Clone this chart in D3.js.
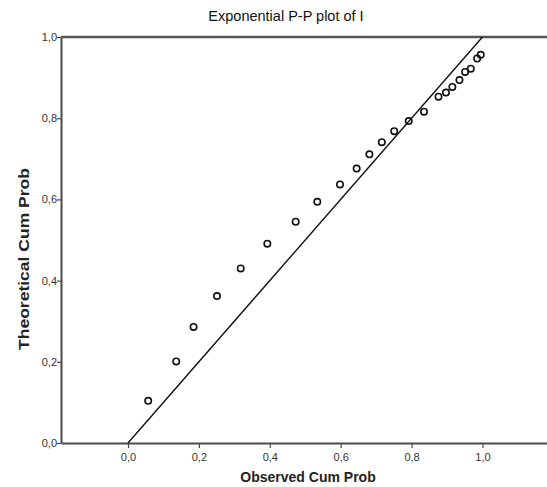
<!DOCTYPE html>
<html>
<head>
<meta charset="utf-8">
<script src="https://cdn.jsdelivr.net/npm/d3@7"></script>
<style>
  body { margin: 0; background: #fff; }
  svg { display: block; font-family: "Liberation Sans", Arial, sans-serif; }
</style>
</head>
<body>
<div id="pp-chart"></div>
<script>
var observed = [0.057, 0.136, 0.185, 0.251, 0.318, 0.393, 0.473, 0.534, 0.598, 0.645,
    0.681, 0.716, 0.751, 0.792, 0.835, 0.876, 0.897, 0.915, 0.935, 0.951, 0.967, 0.985, 0.995];
var theoretical = [0.104, 0.201, 0.286, 0.362, 0.430, 0.491, 0.545, 0.594, 0.637, 0.676,
    0.711, 0.741, 0.768, 0.793, 0.816, 0.853, 0.863, 0.877, 0.894, 0.914, 0.922, 0.947, 0.956];
var tickValues = [0, 0.2, 0.4, 0.6, 0.8, 1.0];
var refLine = [[0, 0], [1, 1]];

var margin = { top: 37, right: 0, bottom: 44, left: 61 },
    fullWidth = 547, fullHeight = 487,
    width = fullWidth - margin.left - margin.right,
    height = fullHeight - margin.top - margin.bottom;

var svg = d3.select("#pp-chart")
    .append("svg")
    .attr("width", fullWidth)
    .attr("height", fullHeight);

var g = svg.append("g")
    .attr("transform", "translate(" + margin.left + "," + margin.top + ")");

var x = d3.scaleLinear()
    .domain([-0.189, 1.182])
    .range([0, width]);

var y = d3.scaleLinear()
    .domain([0, 1])
    .range([height, 0]);

var fmt = function (d) { return d3.format(".1f")(d).replace(".", ","); };

// axes
var xAxis = g.append("g")
    .attr("transform", "translate(0," + height + ")")
    .call(d3.axisBottom(x).tickValues(tickValues).tickFormat(fmt).tickSize(5).tickSizeOuter(0));

var yAxis = g.append("g")
    .call(d3.axisLeft(y).tickValues(tickValues).tickFormat(fmt).tickSize(4).tickSizeOuter(0));

[xAxis, yAxis].forEach(function (a) {
    a.select(".domain").attr("stroke", "#4a4a4a").attr("stroke-width", 2);
    a.selectAll(".tick line").attr("stroke", "#4a4a4a").attr("stroke-width", 1.2);
    a.selectAll(".tick text")
        .attr("fill", "#333")
        .style("font-size", "11px")
        .style("font-family", "Liberation Sans, Arial, sans-serif");
});
xAxis.selectAll(".tick text").attr("dy", "0.9em").attr("y", 8);
yAxis.selectAll(".tick text").attr("x", -4);

// top frame line
g.append("line")
    .attr("x1", 0).attr("x2", width)
    .attr("y1", 0).attr("y2", 0)
    .attr("stroke", "#555")
    .attr("stroke-width", 2.5);

// reference line
var line = d3.line()
    .x(function (d) { return x(d[0]); })
    .y(function (d) { return y(d[1]); });

g.append("path")
    .datum(refLine)
    .attr("fill", "none")
    .attr("stroke", "#111")
    .attr("stroke-width", 1.4)
    .attr("d", line);

// points
g.selectAll("circle.pt")
    .data(observed)
    .enter().append("circle")
    .attr("class", "pt")
    .attr("cx", function (d) { return x(d); })
    .attr("cy", function (d, i) { return y(theoretical[i]); })
    .attr("r", 3.2)
    .attr("fill", "none")
    .attr("stroke", "#111")
    .attr("stroke-width", 1.6);

// titles
svg.append("text")
    .attr("x", 286)
    .attr("y", 21)
    .attr("fill", "#111")
    .style("font-size", "14.5px")
    .style("text-anchor", "middle")
    .text("Exponential P-P plot of I");

svg.append("text")
    .attr("x", 308)
    .attr("y", 482)
    .attr("fill", "#222")
    .attr("font-weight", "bold")
    .style("font-size", "14px")
    .style("text-anchor", "middle")
    .text("Observed Cum Prob");

svg.append("text")
    .attr("transform", "translate(29,259) rotate(-90)")
    .attr("fill", "#222")
    .attr("font-weight", "bold")
    .attr("textLength", 182)
    .attr("lengthAdjust", "spacingAndGlyphs")
    .style("font-size", "14.5px")
    .style("text-anchor", "middle")
    .text("Theoretical Cum Prob");
</script>
</body>
</html>
